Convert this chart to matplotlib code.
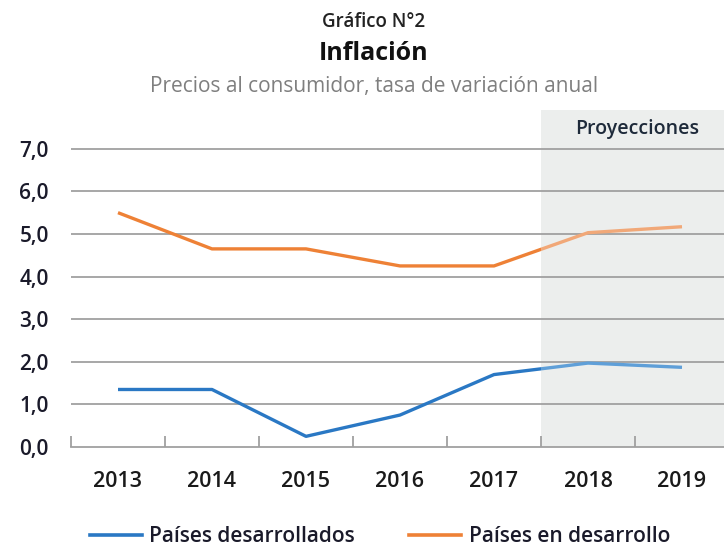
import matplotlib
matplotlib.use("Agg")
import matplotlib.pyplot as plt
from matplotlib.patches import Rectangle
from matplotlib.lines import Line2D

years = ["2013", "2014", "2015", "2016", "2017", "2018", "2019"]
desarrollados = [1.35, 1.35, 0.25, 0.75, 1.70, 1.97, 1.87]
en_desarrollo = [5.50, 4.65, 4.65, 4.25, 4.25, 5.03, 5.17]
yticks = [0, 1, 2, 3, 4, 5, 6, 7]
ytick_labels = ["0,0", "1,0", "2,0", "3,0", "4,0", "5,0", "6,0", "7,0"]
proj_start = 4.5

plt.rcParams['font.family'] = ['Open Sans', 'DejaVu Sans']

fig = plt.figure(figsize=(7.24, 5.48), dpi=100)
ax = fig.add_axes([71/724, 101/548, 658/724, 337/548])

x = list(range(len(years)))
ax.set_xlim(-0.5, 6.5)
ax.set_ylim(0, 7.91)

ax.axvspan(proj_start, 6.5, color="#eceeed", zorder=0, lw=0)

for yv in yticks[1:]:
    ax.axhline(yv, color="#a0a0a0", lw=1.3, zorder=1)

blue, blue_l = "#2a78c4", "#5f9fd8"
orng, orng_l = "#ee8136", "#f1a878"

for data, c_dark, c_light in [(desarrollados, blue, blue_l), (en_desarrollo, orng, orng_l)]:
    l1, = ax.plot(x, data, color=c_dark, lw=2.4, zorder=3, solid_capstyle="butt")
    l1.set_clip_path(Rectangle((-1, -1), proj_start + 1, 20, transform=ax.transData))
    l2, = ax.plot(x, data, color=c_light, lw=2.4, zorder=3, solid_capstyle="butt")
    l2.set_clip_path(Rectangle((proj_start, -1), 10, 20, transform=ax.transData))

ax.text(5.52, 7.46, "Proyecciones", ha="center", va="center",
        fontsize=14, color="#1e2a3a", fontweight="semibold")

for s in ["left", "right", "top"]:
    ax.spines[s].set_visible(False)
ax.spines["bottom"].set_color("#a0a0a0")
ax.spines["bottom"].set_linewidth(1.3)

ax.set_yticks(yticks)
ax.set_yticklabels(ytick_labels, fontsize=15, color="#1a1a2a", fontweight="semibold")
ax.tick_params(axis="y", length=0, pad=16)

ax.set_xticks(x)
ax.set_xticklabels(years, fontsize=15.5, color="#1a1a1a", fontweight="semibold")
ax.tick_params(axis="x", length=0, pad=17)
ax.set_xticks([i - 0.5 for i in range(len(years) + 1)], minor=True)
ax.tick_params(axis="x", which="minor", direction="in", length=8, color="#a0a0a0", width=1.3)

cx = 374 / 724
fig.text(cx, 1 - 22/548, "Gráfico N°2", ha="center", va="center", fontsize=13.5,
         color="#222222", fontweight="semibold")
fig.text(cx, 1 - 53/548, "Inflación", ha="center", va="center", fontsize=18,
         fontweight="bold", color="#111111")
fig.text(cx, 1 - 87/548, "Precios al consumidor, tasa de variación anual", ha="center", va="center",
         fontsize=15, color="#7f7f7f")

handles = [Line2D([], [], color=blue, lw=2.6), Line2D([], [], color=orng, lw=2.6)]
fig.legend(handles, ["Países desarrollados", "Países en desarrollo"], loc="center",
           bbox_to_anchor=(380/724, 1 - 537/548), ncol=2, frameon=False,
           prop={"size": 15, "weight": "semibold"},
           handlelength=2.5, columnspacing=2.6, handletextpad=0.35, labelcolor="#1a1a2a")

fig.savefig("out.png", dpi=100, facecolor="white")
